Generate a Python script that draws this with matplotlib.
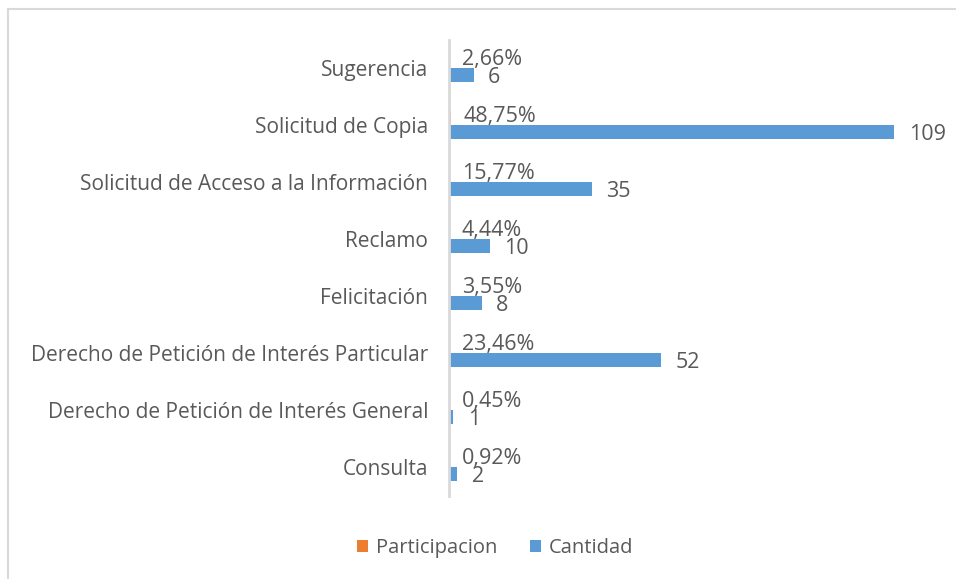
import matplotlib.pyplot as plt
from matplotlib.lines import Line2D

categorias = ['Sugerencia', 'Solicitud de Copia',
              'Solicitud de Acceso a la Información', 'Reclamo',
              'Felicitación', 'Derecho de Petición de Interés Particular',
              'Derecho de Petición de Interés General', 'Consulta']
participacion = [0.0266, 0.4875, 0.1577, 0.0444, 0.0355, 0.2346, 0.0045, 0.0092]
cantidad = [6, 109, 35, 10, 8, 52, 1, 2]

gris = '#595959'
plt.rcParams['font.family'] = ['Open Sans', 'DejaVu Sans']

fig = plt.figure(figsize=(9.56, 5.79), dpi=100)
W, H = 956, 579
ax = fig.add_axes([449 / W, (H - 495.5) / H, (935 - 449) / W, 456 / H])

y = list(range(len(categorias)))
h = 0.25
ax.barh([i - h / 2 for i in y], participacion, height=h,
        color='#ED7D31', label='Participacion')
ax.barh([i + h / 2 for i in y], cantidad, height=h,
        color='#5B9BD5', label='Cantidad')

for i, (p, c) in enumerate(zip(participacion, cantidad)):
    txt = f'{p * 100:.2f}%'.replace('.', ',')
    ax.annotate(txt, (p, i - h / 2), xytext=(9, 1), textcoords='offset points',
                va='center', ha='left', fontsize=15.5, color=gris)
    ax.annotate(str(c), (c, i + h / 2), xytext=(10.5, -1.5),
                textcoords='offset points', va='center', ha='left',
                fontsize=15.5, color=gris)

ax.set_ylim(len(categorias) - 0.5, -0.5)
ax.set_xlim(0, 119)
ax.set_yticks(y)
ax.set_yticklabels(categorias, fontsize=15, color=gris)
ax.tick_params(axis='y', length=0, pad=15)
ax.set_xticks([])
for s in ['top', 'right', 'bottom']:
    ax.spines[s].set_visible(False)
ax.spines['left'].set_color('#d9d9d9')
ax.spines['left'].set_linewidth(2)
ax.spines['left'].set_zorder(3)

fig.legend(loc='center', bbox_to_anchor=(495 / W, 1 - 548 / H), ncol=2,
           frameon=False, fontsize=14.5, labelcolor=gris, handlelength=0.55,
           handleheight=0.55, columnspacing=1.6, handletextpad=0.4)

# marco del grafico: solo se ven el borde superior e izquierdo
x0, y0 = 8 / W, 1 - 9 / H
fig.add_artist(Line2D([x0, 1], [y0, y0], transform=fig.transFigure,
                      color='#d9d9d9', linewidth=1.5))
fig.add_artist(Line2D([x0, x0], [0, y0], transform=fig.transFigure,
                      color='#d9d9d9', linewidth=1.5))

fig.savefig('out.png', dpi=100)
